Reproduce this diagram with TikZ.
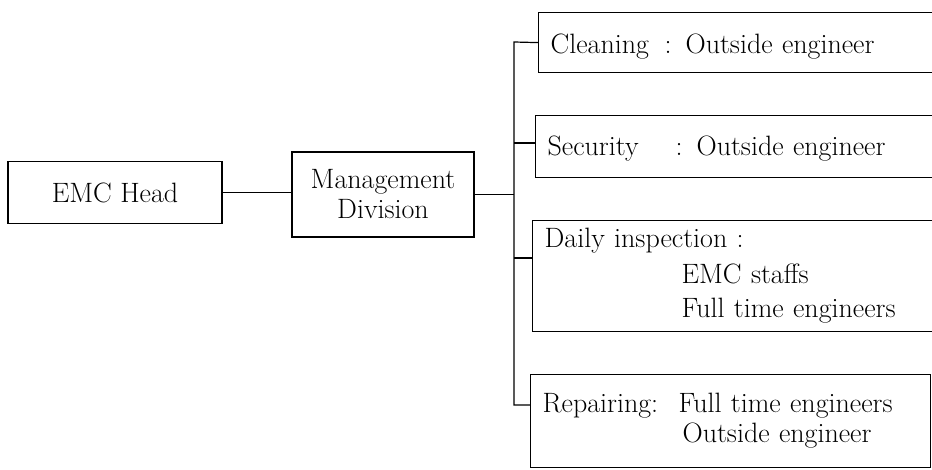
\documentclass[tikz,border=0pt]{standalone}
\usepackage{fontspec}
\usepackage{tikz}
\usetikzlibrary{positioning, calc}

\begin{document}
\begin{tikzpicture}[
    x=1pt, y=-1pt,
    unit/.style={rectangle, draw, line width=1.2pt, minimum width=#1,
                 inner sep=0pt, align=center, font=\fontsize{28}{30}\selectfont},
    duty/.style={rectangle, draw, line width=1.2pt, anchor=north west,
                 minimum height=#1, text width=376pt, inner xsep=12pt, inner ysep=0pt,
                 align=left, font=\fontsize{28}{30}\selectfont},
    link/.style={line width=1.2pt}
]
    \useasboundingbox (0,0) rectangle (932,470);

    % Head and division
    \node[unit=214pt, minimum height=62pt] (head) at (115,192.5) {EMC Head};
    \node[unit=182pt, minimum height=85pt] (mgmt) at (383,194.5) {Management\\Division};

    % Duties
    \node[duty=60pt] (clean) at (538,12) {\rule{0pt}{27pt}\makebox[114pt][l]{Cleaning}: Outside engineer};
    \node[duty=62pt] (secur) at (535,115) {\rule{0pt}{23pt}\makebox[128pt][l]{Security}: Outside engineer};
    \node[duty=111pt] (daily) at (532,220) {
        Daily inspection :\\[6pt]
        \hspace*{137pt}EMC staffs\\[4pt]
        \hspace*{137pt}Full time engineers
    };
    \node[duty=93pt] (repair) at (530,374) {
        \makebox[136pt][l]{Repairing:}Full time engineers\\
        \hspace*{140pt}Outside engineer
    };

    % Branch points on the trunk
    \coordinate (t1) at (514,42);
    \coordinate (t2) at (514,143);
    \coordinate (t3) at (514,258);
    \coordinate (t4) at (514,405);

    \draw[link] (head.east) -- (head.east -| mgmt.west);
    \draw[link] (mgmt.east) -- (mgmt.east -| t1);
    \draw[link] (clean.west) -- (t1) -- (t4) -- (t4 -| repair.west);
    \draw[link] (t2) -- (t2 -| secur.west);
    \draw[link] (t3) -- (t3 -| daily.west);
\end{tikzpicture}
\end{document}
